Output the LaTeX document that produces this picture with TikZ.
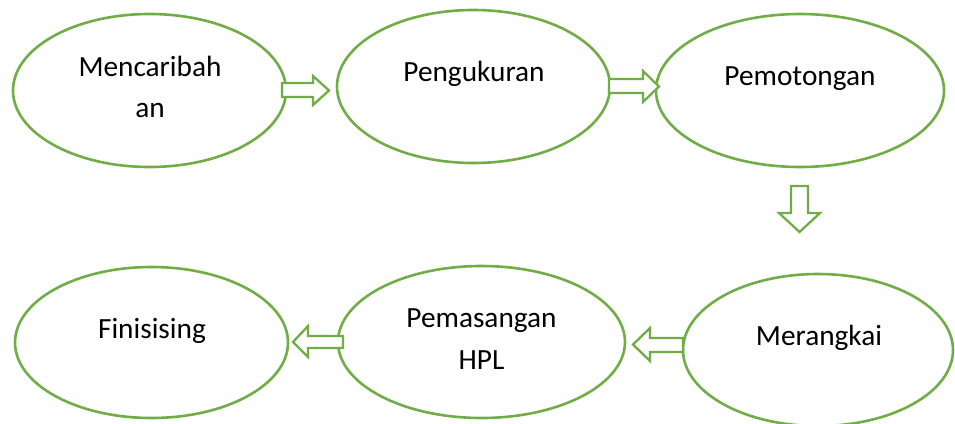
\documentclass[tikz,border=0pt]{standalone}
\usepackage{fontspec}
\setmainfont{Carlito}
\usetikzlibrary{shapes.geometric}
\definecolor{ogreen}{HTML}{70AD47}
\tikzset{
  oval/.style={draw=ogreen, line width=2.6pt, ellipse, fill=white, inner sep=0pt},
  lbl/.style={font=\fontsize{29.3}{41.5}\selectfont, text=black, anchor=base, inner sep=0pt, align=center},
  blk/.style={draw=ogreen, line width=2.3pt, fill=white, line join=miter}
}
\begin{document}
\begin{tikzpicture}[x=1pt, y=-1pt]
\useasboundingbox (0,0) rectangle (955,423);
% ellipses
\node[oval, minimum width=273pt, minimum height=153pt] (e1) at (149.5,90.5) {};
\node[oval, minimum width=273pt, minimum height=153pt] (e2) at (473.5,86.5) {};
\node[oval, minimum width=288pt, minimum height=153pt] (e3) at (800,90.5) {};
\node[oval, minimum width=270pt, minimum height=152pt] (e4) at (818,350) {};
\node[oval, minimum width=287pt, minimum height=152pt] (e5) at (481.5,342) {};
\node[oval, minimum width=273pt, minimum height=151pt] (e6) at (151.5,342.5) {};
% labels
\node[lbl] (t1a) at (150,76) {Mencaribah};
\node[lbl] (t1b) at (150,117) {an};
\node[lbl] (t2) at (474,81) {Pengukuran};
\node[lbl] (t3) at (800,85) {Pemotongan};
\node[lbl] (t4) at (819,345) {Merangkai};
\node[lbl] (t5a) at (481.5,327) {Pemasangan};
\node[lbl] (t5b) at (481.5,369) {HPL};
\node[lbl] (t6) at (152,338) {Finisising};
% block arrows
\draw[blk] (282,83) -- (313,83) -- (313,76) -- (329,90.5) -- (313,105) -- (313,97) -- (282,97) -- cycle;
\draw[blk] (609,79) -- (643,79) -- (643,71) -- (659,86.5) -- (643,102) -- (643,93) -- (609,93) -- cycle;
\draw[blk] (791,186) -- (808,186) -- (808,213) -- (820,213) -- (799.5,232) -- (779,213) -- (791,213) -- cycle;
\draw[blk] (683,338) -- (650,338) -- (650,328) -- (633,344.5) -- (650,361) -- (650,352) -- (683,352) -- cycle;
\draw[blk] (343,336) -- (308,336) -- (308,326) -- (293,342) -- (308,357) -- (308,348) -- (343,348) -- cycle;
\end{tikzpicture}
\end{document}
